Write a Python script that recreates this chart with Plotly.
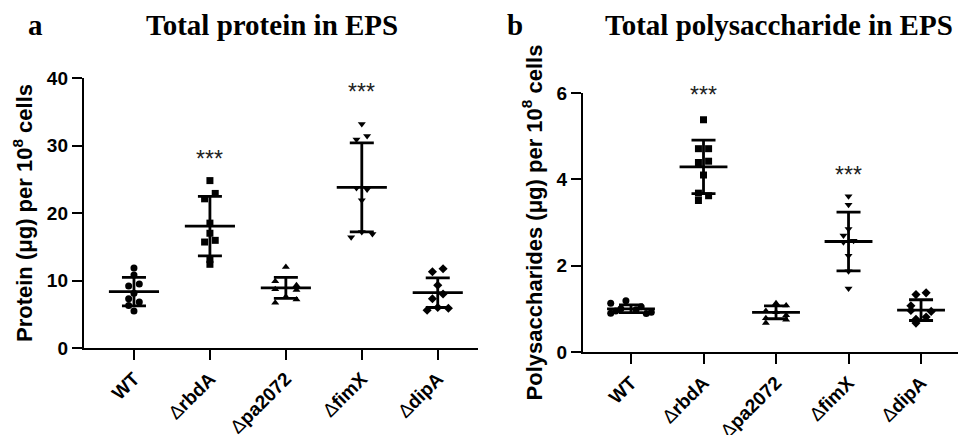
import plotly.graph_objects as go

# ---------------- data ----------------
categories = ["WT", "ΔrbdA", "Δpa2072", "ΔfimX", "ΔdipA"]
tick_labels = ["<b>WT</b>", "Δ<b>rbdA</b>", "Δ<b>pa2072</b>", "Δ<b>fimX</b>", "Δ<b>dipA</b>"]

# Panel a: total protein (µg per 10^8 cells), individual replicates
protein_WT = [11.85, 10.8, 9.5, 9.2, 8.1, 7.3, 6.8, 6.3, 5.5]
protein_rbdA = [24.8, 22.9, 22.1, 18.5, 17.0, 15.7, 15.95, 13.1, 12.4]
protein_pa2072 = [12.0, 9.9, 9.3, 8.7, 8.6, 7.6, 7.2, 6.7]
protein_fimX = [33.2, 31.4, 30.9, 23.7, 23.5, 21.9, 17.2, 16.9, 16.4]
protein_dipA = [11.75, 11.3, 9.3, 8.0, 7.3, 5.9, 5.6, 6.0]
protein_mean = [8.35, 18.05, 8.9, 23.8, 8.2]
protein_sd = [2.1, 4.4, 1.55, 6.6, 2.2]
protein_sig = ["", "***", "", "***", ""]
protein_sig_y = [None, 28.0, None, 37.9, None]

# Panel b: total polysaccharide (µg per 10^8 cells)
poly_WT = [1.13, 1.19, 0.90, 0.92, 0.89, 1.0, 0.98, 1.05, 0.95]
poly_rbdA = [5.38, 4.71, 4.71, 4.42, 4.39, 4.10, 3.68, 3.62, 3.51]
poly_pa2072 = [1.13, 1.08, 0.95, 0.92, 0.85, 0.78, 0.75, 0.67]
poly_fimX = [3.61, 3.41, 2.85, 2.70, 2.58, 2.54, 2.23, 1.87, 1.47]
poly_dipA = [1.33, 1.37, 1.07, 0.96, 0.94, 0.81, 0.76, 0.67]
poly_mean = [1.0, 4.29, 0.92, 2.56, 0.97]
poly_sd = [0.09, 0.62, 0.15, 0.68, 0.24]
poly_sig = ["", "***", "", "***", ""]
poly_sig_y = [None, 5.95, None, 4.1, None]

# ---------------- layout helpers (scatter spread, styles) ----------------
spread_a = [
    [0, 0, 1, -1, 0, -1, 1, -1, 0],
    [0, 1, -1, 0, 0, -1, 1, 0, 0],
    [0, -2, 2, -2, 2, 0, 2, -2],
    [0, 1, -1, -1, 1, 0, 0, 2, -2],
    [1, -1, 0, 1, -1, 2, -2, 0],
]
spread_b = [
    [-4, -1, -4, 4, 3, -2, 1, 2, -3],
    [0, -1, 1, 1, -1, 0, -1, 1, -1],
    [0, 2, -2, 0, 2, -2, 2, -2],
    [0, 0, 0, -1, 1, -1, 0, 0, 0],
    [-1, 1, -2, -2, 2, 1, -1, -1],
]
symbols = ["circle", "square", "triangle-up", "triangle-down", "diamond"]
STEP = 0.07

# the page body has an 8px margin: size the figure so it fits the window
OFF = 8
W, H = 966 - OFF, 435 - OFF


def px(x):
    return (x - OFF) / W


def py(y):
    return 1 - (y - OFF) / H


fig = go.Figure()


def add_panel(groups, spreads, mean, sd, sig, sig_y, xa, ya):
    for i, (vals, sp) in enumerate(zip(groups, spreads)):
        fig.add_trace(go.Scatter(
            x=[i + s * STEP for s in sp], y=vals, mode="markers",
            marker=dict(symbol=symbols[i], size=7, color="black"),
            xaxis=xa, yaxis=ya, showlegend=False, hoverinfo="y"))
    xs = list(range(len(categories)))
    # mean line
    fig.add_trace(go.Scatter(
        x=xs, y=mean, mode="markers",
        marker=dict(size=2, color="rgba(0,0,0,0)"),
        error_x=dict(type="data", array=[0.33] * len(xs), width=0,
                     thickness=2.8, color="black"),
        xaxis=xa, yaxis=ya, showlegend=False, hoverinfo="skip"))
    # SD bars
    fig.add_trace(go.Scatter(
        x=xs, y=mean, mode="markers",
        marker=dict(size=2, color="rgba(0,0,0,0)"),
        error_y=dict(type="data", array=sd, width=12,
                     thickness=2.8, color="black"),
        xaxis=xa, yaxis=ya, showlegend=False, hoverinfo="skip"))
    for i, (s, yv) in enumerate(zip(sig, sig_y)):
        if s:
            fig.add_annotation(x=i, y=yv, xref=xa, yref=ya, text=s,
                               showarrow=False, xanchor="center", yanchor="middle",
                               font=dict(size=23, color="#222",
                                         family="Arial, Liberation Sans"))


add_panel([protein_WT, protein_rbdA, protein_pa2072, protein_fimX, protein_dipA],
          spread_a, protein_mean, protein_sd, protein_sig, protein_sig_y, "x", "y")
add_panel([poly_WT, poly_rbdA, poly_pa2072, poly_fimX, poly_dipA],
          spread_b, poly_mean, poly_sd, poly_sig, poly_sig_y, "x2", "y2")

axis_font = dict(family="Arial, Liberation Sans", size=19, color="black")
common_x = dict(tickmode="array", tickvals=list(range(5)), ticktext=tick_labels,
                tickangle=-45, ticks="outside", ticklen=10, tickwidth=2.2,
                tickcolor="black", showline=True, linewidth=2.4, linecolor="black",
                showgrid=False, zeroline=False, tickfont=axis_font, automargin=False)
common_y = dict(ticks="outside", ticklen=10, tickwidth=2.2, tickcolor="black",
                showline=True, linewidth=2.4, linecolor="black", showgrid=False,
                zeroline=False, automargin=False,
                tickfont=dict(family="Arial, Liberation Sans", size=19,
                              color="black", weight="bold"))
ytitle_font = dict(family="Arial, Liberation Sans", size=22, color="black")

fig.update_layout(
    template="none",
    width=W, height=H, margin=dict(l=0, r=0, t=0, b=0),
    paper_bgcolor="white", plot_bgcolor="white",
    xaxis=dict(domain=[px(84), px(478)], range=[-0.658, 4.53], anchor="y", **common_x),
    yaxis=dict(domain=[py(348), py(78)], range=[0, 40], tickvals=[0, 10, 20, 30, 40],
               anchor="x",
               title=dict(text="<b>Protein (μg) per 10<sup>8</sup> cells</b>",
                          font=ytitle_font, standoff=8),
               **common_y),
    xaxis2=dict(domain=[px(583), 1.0], range=[-0.662, 4.62], anchor="y2", **common_x),
    yaxis2=dict(domain=[py(352), py(93)], range=[0, 6], tickvals=[0, 2, 4, 6],
                anchor="x2",
                title=dict(text="<b>Polysaccharides (μg) per 10<sup>8</sup> cells</b>",
                           font=ytitle_font, standoff=8),
                **common_y),
)

title_font = dict(family="Liberation Serif, Times New Roman", size=29, color="black")
for txt, xp in [("<b>a</b>", 35), ("<b>Total protein in EPS</b>", 272),
                ("<b>b</b>", 515), ("<b>Total polysaccharide in EPS</b>", 779)]:
    fig.add_annotation(x=px(xp), y=py(25), xref="paper", yref="paper",
                       text=txt, showarrow=False, xanchor="center", yanchor="middle",
                       font=title_font)

fig.write_html("out.html")
